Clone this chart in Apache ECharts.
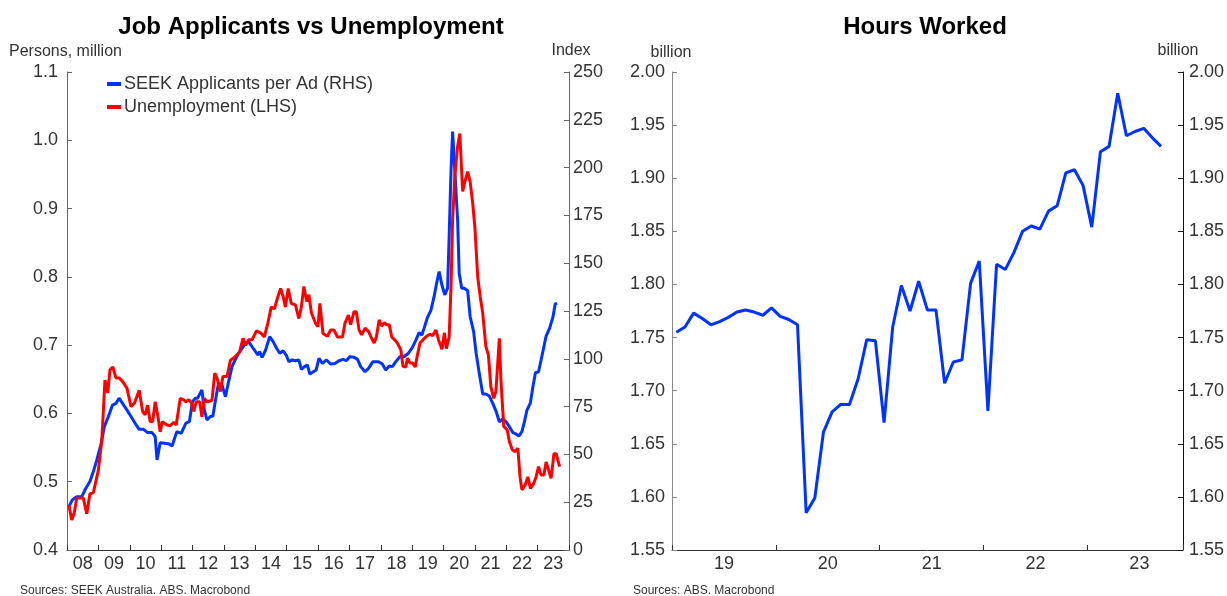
<!DOCTYPE html>
<html><head><meta charset="utf-8">
<script src="https://cdn.jsdelivr.net/npm/echarts@6/dist/echarts.min.js"></script>
<style>html,body{margin:0;padding:0;background:#fff}#c{width:1227px;height:596px}</style>
</head><body><div id="c"></div>
<script>
// ---------- data ----------
const leftYearLabels = ['08','09','10','11','12','13','14','15','16','17','18','19','20','21','22','23'];
const rightYearLabels = ['19','20','21','22','23'];

// SEEK applicants per ad (index, RHS) – decimal year / value
const seekTime = [2008.06,2008.17,2008.31,2008.47,2008.60,2008.73,2008.84,2008.95,2009.09,2009.19,2009.32,2009.45,2009.56,2009.66,2009.77,2009.91,2010.04,2010.17,2010.30,2010.44,2010.57,2010.71,2010.81,2010.87,2010.97,2011.11,2011.26,2011.35,2011.50,2011.64,2011.79,2011.90,2012.00,2012.09,2012.16,2012.30,2012.38,2012.46,2012.57,2012.65,2012.76,2012.83,2012.94,2013.05,2013.15,2013.26,2013.37,2013.47,2013.58,2013.69,2013.79,2013.90,2014.01,2014.08,2014.14,2014.22,2014.33,2014.46,2014.57,2014.68,2014.78,2014.89,2015.00,2015.07,2015.18,2015.28,2015.39,2015.47,2015.57,2015.66,2015.74,2015.85,2015.94,2016.03,2016.14,2016.27,2016.40,2016.54,2016.67,2016.80,2016.90,2017.01,2017.15,2017.26,2017.36,2017.50,2017.61,2017.75,2017.93,2018.05,2018.16,2018.27,2018.37,2018.48,2018.61,2018.74,2018.88,2019.01,2019.12,2019.22,2019.31,2019.38,2019.49,2019.60,2019.70,2019.78,2019.86,2019.95,2020.04,2020.13,2020.18,2020.24,2020.29,2020.36,2020.45,2020.50,2020.58,2020.66,2020.77,2020.85,2020.96,2021.04,2021.14,2021.25,2021.35,2021.46,2021.57,2021.67,2021.78,2021.89,2021.99,2022.10,2022.21,2022.31,2022.40,2022.50,2022.58,2022.66,2022.77,2022.85,2022.93,2023.03,2023.11,2023.20,2023.27,2023.38,2023.49,2023.56,2023.62];
const seekValues = [22.7,26.2,27.9,27.9,32.3,35.8,41.0,47.1,55.8,64.5,69.8,75.8,76.7,79.4,76.7,73.2,69.8,66.3,63.1,63.1,61.4,61.4,59.3,47.1,56.1,55.8,55.4,54.4,61.9,61.0,66.3,67.1,77.6,79.4,79.4,83.7,73.2,68.0,69.8,70.1,81.1,87.2,86.3,80.2,88.1,95.9,99.8,102.9,105.5,108.1,109.0,106.3,103.7,102.0,103.7,100.8,104.6,111.6,109.0,105.5,102.9,104.2,101.5,98.5,99.4,99.0,99.4,94.5,95.9,96.8,92.0,93.2,94.1,100.3,97.6,99.4,97.3,97.6,99.0,99.7,99.0,101.1,100.8,99.7,95.9,93.2,95.0,98.5,98.5,97.3,94.1,96.2,95.9,98.5,101.1,101.1,102.9,106.0,109.8,113.7,112.4,115.9,121.7,125.5,132.5,139.5,145.6,138.6,133.4,136.9,163.9,198.7,218.8,198.7,172.6,144.7,136.9,136.9,135.6,122.0,114.2,102.9,92.4,81.6,81.6,80.5,76.7,72.8,67.1,68.5,67.1,64.5,61.4,60.7,59.6,61.9,67.1,73.2,77.0,85.4,92.7,93.2,99.4,106.3,111.9,115.9,122.0,128.7,129.0];

// Unemployment (persons, million, LHS)
const unempTime = [2008.06,2008.15,2008.23,2008.31,2008.52,2008.63,2008.73,2008.84,2009.00,2009.11,2009.21,2009.30,2009.37,2009.46,2009.56,2009.66,2009.77,2009.91,2010.04,2010.15,2010.30,2010.41,2010.49,2010.57,2010.65,2010.73,2010.81,2010.90,2010.97,2011.04,2011.19,2011.29,2011.40,2011.48,2011.61,2011.72,2011.79,2011.88,2011.96,2012.04,2012.12,2012.23,2012.30,2012.38,2012.46,2012.62,2012.71,2012.78,2012.89,2012.97,2013.10,2013.21,2013.31,2013.42,2013.50,2013.61,2013.69,2013.79,2013.90,2014.04,2014.17,2014.29,2014.40,2014.51,2014.61,2014.72,2014.81,2014.89,2014.96,2015.05,2015.15,2015.28,2015.39,2015.47,2015.55,2015.64,2015.71,2015.79,2015.92,2016.00,2016.06,2016.16,2016.30,2016.40,2016.51,2016.62,2016.78,2016.86,2016.97,2017.04,2017.15,2017.22,2017.31,2017.39,2017.50,2017.61,2017.71,2017.79,2017.86,2017.95,2018.03,2018.11,2018.18,2018.27,2018.35,2018.46,2018.53,2018.64,2018.71,2018.80,2018.85,2018.93,2019.01,2019.10,2019.17,2019.25,2019.35,2019.46,2019.57,2019.65,2019.76,2019.84,2019.95,2020.03,2020.09,2020.18,2020.24,2020.29,2020.36,2020.45,2020.52,2020.61,2020.68,2020.77,2020.85,2020.93,2021.00,2021.09,2021.17,2021.25,2021.35,2021.43,2021.51,2021.60,2021.67,2021.78,2021.83,2021.92,2022.03,2022.10,2022.19,2022.28,2022.37,2022.44,2022.50,2022.60,2022.69,2022.77,2022.88,2022.95,2023.03,2023.11,2023.20,2023.27,2023.35,2023.43,2023.52,2023.59,2023.70];
const unempValues = [0.466,0.444,0.454,0.476,0.476,0.453,0.482,0.484,0.517,0.561,0.649,0.630,0.664,0.668,0.652,0.652,0.647,0.637,0.610,0.615,0.634,0.603,0.598,0.612,0.588,0.588,0.617,0.595,0.573,0.588,0.583,0.582,0.587,0.583,0.622,0.620,0.617,0.620,0.616,0.603,0.617,0.617,0.595,0.622,0.617,0.619,0.659,0.652,0.632,0.654,0.654,0.678,0.681,0.686,0.690,0.710,0.700,0.708,0.708,0.721,0.718,0.712,0.732,0.756,0.753,0.771,0.783,0.771,0.756,0.783,0.761,0.759,0.739,0.756,0.786,0.764,0.774,0.747,0.732,0.727,0.761,0.717,0.713,0.722,0.722,0.712,0.712,0.732,0.744,0.730,0.749,0.749,0.722,0.715,0.725,0.720,0.710,0.703,0.712,0.737,0.728,0.733,0.730,0.730,0.712,0.707,0.703,0.693,0.669,0.668,0.681,0.674,0.674,0.668,0.686,0.703,0.708,0.713,0.716,0.714,0.722,0.708,0.694,0.718,0.695,0.712,0.786,0.883,0.947,0.991,1.010,0.925,0.939,0.954,0.939,0.908,0.873,0.800,0.771,0.747,0.698,0.686,0.639,0.622,0.632,0.710,0.649,0.581,0.576,0.559,0.547,0.544,0.549,0.507,0.488,0.495,0.507,0.490,0.498,0.507,0.522,0.510,0.510,0.529,0.517,0.505,0.541,0.541,0.522];

// Hours worked (billion), monthly
const hoursMonths = ['2019-01','2019-02','2019-03','2019-04','2019-05','2019-06','2019-07','2019-08','2019-09','2019-10','2019-11','2019-12',
 '2020-01','2020-02','2020-03','2020-04','2020-05','2020-06','2020-07','2020-08','2020-09','2020-10','2020-11','2020-12',
 '2021-01','2021-02','2021-03','2021-04','2021-05','2021-06','2021-07','2021-08','2021-09','2021-10','2021-11','2021-12',
 '2022-01','2022-02','2022-03','2022-04','2022-05','2022-06','2022-07','2022-08','2022-09','2022-10','2022-11','2022-12',
 '2023-01','2023-02','2023-03','2023-04','2023-05','2023-06','2023-07','2023-08','2023-09'];
const hoursValues = [1.755,1.760,1.773,1.768,1.762,1.765,1.769,1.774,1.776,1.774,1.771,1.778,
 1.770,1.767,1.762,1.585,1.599,1.661,1.680,1.687,1.687,1.711,1.748,1.747,
 1.670,1.760,1.799,1.775,1.803,1.776,1.776,1.707,1.727,1.729,1.801,1.822,
 1.681,1.819,1.814,1.830,1.850,1.855,1.852,1.869,1.874,1.905,1.908,1.893,
 1.854,1.925,1.930,1.980,1.940,1.944,1.947,1.938,1.930];

// ---------- chart ----------
const FONT = 'Arial, "Liberation Sans", sans-serif';
const BLUE = '#0033ff', RED = '#ff0000';
const chart = echarts.init(document.getElementById('c'), null, {renderer:'canvas'});

const L = {left:67, right:569, top:72, bottom:550};
const R = {left:672, right:1183, top:72, bottom:550};
const rightMax = 2023.92;
const leftYearPx = (L.right-L.left)/16;
const rightYearPx = (R.right-R.left)/(rightMax-2019);

const monthToYear = s => { const [y,m] = s.split('-').map(Number); return y + (m-0.5)/12; };

function xLabel(labels, start, padPx){
  return {
    fontSize:18, color:'#333', fontFamily:FONT, margin:5,
    padding:[0,0,0,padPx],
    formatter: v => { const i = Math.round(v) - start; return (i>=0 && i<labels.length) ? labels[i] : ''; }
  };
}
const yLabel = (dec, margin) => ({fontSize:18, color:'#333', fontFamily:FONT, margin:margin, formatter: v => v.toFixed(dec)});

const option = {
  animation:false,
  backgroundColor:'#fff',
  grid:[
    {left:L.left, width:L.right-L.left, top:L.top, height:L.bottom-L.top, containLabel:false, outerBoundsMode:'none'},
    {left:R.left, width:R.right-R.left, top:R.top, height:R.bottom-R.top, containLabel:false, outerBoundsMode:'none'}
  ],
  xAxis:[
    {type:'value', gridIndex:0, min:2008, max:2024, interval:1,
     axisLine:{show:true, onZero:false, lineStyle:{color:'#333', width:1}},
     axisTick:{show:true, inside:true, length:5, lineStyle:{color:'#333'}},
     axisLabel:xLabel(leftYearLabels, 2008, leftYearPx),
     splitLine:{show:false}},
    {type:'value', gridIndex:1, min:2019, max:rightMax, interval:1,
     axisLine:{show:true, onZero:false, lineStyle:{color:'#333', width:1}},
     axisTick:{show:true, inside:true, length:5, lineStyle:{color:'#333'}},
     axisLabel:xLabel(rightYearLabels, 2019, rightYearPx),
     splitLine:{show:false}}
  ],
  yAxis:[
    {type:'value', gridIndex:0, position:'left', min:0.4, max:1.1, interval:0.1,
     axisLine:{show:true, lineStyle:{color:'#666'}},
     axisTick:{show:true, inside:true, length:5, lineStyle:{color:'#666'}},
     axisLabel:yLabel(1, 9), splitLine:{show:false}},
    {type:'value', gridIndex:0, position:'right', min:0, max:250, interval:25,
     axisLine:{show:true, lineStyle:{color:'#666'}},
     axisTick:{show:true, inside:true, length:5, lineStyle:{color:'#666'}},
     axisLabel:yLabel(0, 4), splitLine:{show:false}},
    {type:'value', gridIndex:1, position:'left', min:1.55, max:2.00, interval:0.05,
     axisLine:{show:true, lineStyle:{color:'#888'}},
     axisTick:{show:true, inside:true, length:5, lineStyle:{color:'#888'}},
     axisLabel:yLabel(2, 7), splitLine:{show:false}},
    {type:'value', gridIndex:1, position:'right', min:1.55, max:2.00, interval:0.05,
     axisLine:{show:true, lineStyle:{color:'#111'}},
     axisTick:{show:true, inside:true, length:5, lineStyle:{color:'#111'}},
     axisLabel:yLabel(2, 6), splitLine:{show:false}}
  ],
  legend:{
    orient:'vertical', left:107, top:75, padding:0, itemWidth:14, itemHeight:4, itemGap:5,
    icon:'rect', textStyle:{fontSize:18, color:'#333', fontFamily:FONT, padding:[0,0,0,-2]},
    data:['SEEK Applicants per Ad (RHS)','Unemployment (LHS)']
  },
  series:[
    {name:'SEEK Applicants per Ad (RHS)', type:'line', xAxisIndex:0, yAxisIndex:1, showSymbol:false,
     lineStyle:{color:BLUE, width:3}, itemStyle:{color:BLUE},
     data: seekTime.map((t,i)=>[t, seekValues[i]])},
    {name:'Unemployment (LHS)', type:'line', xAxisIndex:0, yAxisIndex:0, showSymbol:false,
     lineStyle:{color:RED, width:3}, itemStyle:{color:RED},
     data: unempTime.map((t,i)=>[t, unempValues[i]])},
    {name:'Hours Worked', type:'line', xAxisIndex:1, yAxisIndex:2, showSymbol:false,
     lineStyle:{color:BLUE, width:3}, itemStyle:{color:BLUE},
     data: hoursMonths.map((m,i)=>[monthToYear(m), hoursValues[i]])}
  ],
  graphic:[
    {type:'text', x:311, y:27, style:{text:'Job Applicants vs Unemployment', fontSize:24, fontWeight:'bold', fontFamily:FONT, fill:'#000', align:'center', verticalAlign:'middle'}},
    {type:'text', x:925, y:27, style:{text:'Hours Worked', fontSize:24, fontWeight:'bold', fontFamily:FONT, fill:'#000', align:'center', verticalAlign:'middle'}},
    {type:'text', x:9, y:52, style:{text:'Persons, million', fontSize:16, fontFamily:FONT, fill:'#333', align:'left', verticalAlign:'middle'}},
    {type:'text', x:571, y:51, style:{text:'Index', fontSize:16, fontFamily:FONT, fill:'#333', align:'center', verticalAlign:'middle'}},
    {type:'text', x:671, y:53, style:{text:'billion', fontSize:16, fontFamily:FONT, fill:'#333', align:'center', verticalAlign:'middle'}},
    {type:'text', x:1178, y:51, style:{text:'billion', fontSize:16, fontFamily:FONT, fill:'#333', align:'center', verticalAlign:'middle'}},
    {type:'text', x:20, y:591, style:{text:'Sources: SEEK Australia. ABS. Macrobond', fontSize:12, fontFamily:FONT, fill:'#333', align:'left', verticalAlign:'middle'}},
    {type:'text', x:633, y:591, style:{text:'Sources: ABS. Macrobond', fontSize:12, fontFamily:FONT, fill:'#333', align:'left', verticalAlign:'middle'}}
  ]
};
chart.setOption(option);
</script>
</body></html>
